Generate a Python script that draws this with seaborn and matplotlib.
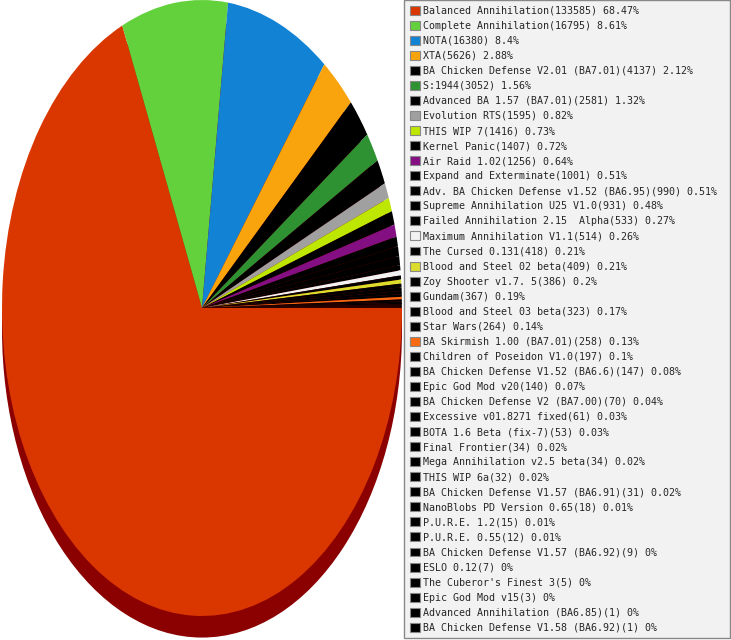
import matplotlib
matplotlib.use("Agg")
import matplotlib.pyplot as plt
import seaborn as sns
from matplotlib.patches import Ellipse

# data
mods = ["Balanced Annihilation", "Complete Annihilation", "NOTA", "XTA",
        "BA Chicken Defense V2.01 (BA7.01)", "S:1944", "Advanced BA 1.57 (BA7.01)",
        "Evolution RTS", "THIS WIP 7", "Kernel Panic", "Air Raid 1.02",
        "Expand and Exterminate", "Adv. BA Chicken Defense v1.52 (BA6.95)",
        "Supreme Annihilation U25 V1.0", "Failed Annihilation 2.15  Alpha",
        "Maximum Annihilation V1.1", "The Cursed 0.131", "Blood and Steel 02 beta",
        "Zoy Shooter v1.7. 5", "Gundam", "Blood and Steel 03 beta", "Star Wars",
        "BA Skirmish 1.00 (BA7.01)", "Children of Poseidon V1.0",
        "BA Chicken Defense V1.52 (BA6.6)", "Epic God Mod v20",
        "BA Chicken Defense V2 (BA7.00)", "Excessive v01.8271 fixed",
        "BOTA 1.6 Beta (fix-7)", "Final Frontier", "Mega Annihilation v2.5 beta",
        "THIS WIP 6a", "BA Chicken Defense V1.57 (BA6.91)", "NanoBlobs PD Version 0.65",
        "P.U.R.E. 1.2", "P.U.R.E. 0.55", "BA Chicken Defense V1.57 (BA6.92)",
        "ESLO 0.12", "The Cuberor's Finest 3", "Epic God Mod v15",
        "Advanced Annihilation (BA6.85)", "BA Chicken Defense V1.58 (BA6.92)"]
counts = [133585, 16795, 16380, 5626, 4137, 3052, 2581, 1595, 1416, 1407, 1256,
          1001, 990, 931, 533, 514, 418, 409, 386, 367, 323, 264, 258, 197, 147,
          140, 70, 61, 53, 34, 34, 32, 31, 18, 15, 12, 9, 7, 5, 3, 1, 1]
percents = ["68.47", "8.61", "8.4", "2.88", "2.12", "1.56", "1.32", "0.82", "0.73",
            "0.72", "0.64", "0.51", "0.51", "0.48", "0.27", "0.26", "0.21", "0.21",
            "0.2", "0.19", "0.17", "0.14", "0.13", "0.1", "0.08", "0.07", "0.04",
            "0.03", "0.03", "0.02", "0.02", "0.02", "0.02", "0.01", "0.01", "0.01",
            "0", "0", "0", "0", "0", "0"]

special = {0: "#d93600", 1: "#62d13c", 2: "#1283d4", 3: "#f9a40c", 5: "#2e9132",
           7: "#a0a0a0", 8: "#bde600", 10: "#830f83", 15: "#f2f2f2",
           17: "#dcdc2c", 22: "#f86a12"}
colors = [special.get(i, "#000000") for i in range(len(mods))]
labels = [f"{m}({c}) {p}%" for m, c, p in zip(mods, counts, percents)]

sns.set_theme(style="white")
plt.rcParams['font.family'] = ['DejaVu Sans Mono', 'DejaVu Sans']

fig = plt.figure(figsize=(7.31, 6.40), dpi=100)
ax = fig.add_axes([2 / 731, 24 / 640, 400 / 731, 616 / 640])

wedges, _ = ax.pie(counts, colors=colors, startangle=0, counterclock=False,
                   wedgeprops=dict(linewidth=0, antialiased=True))
# 3d-ish depth under the pie
ax.add_patch(Ellipse((0, -0.07), 2, 2, facecolor="#8b0000", edgecolor="none",
                     zorder=0, clip_on=False))
ax.set_aspect("auto")
ax.set_xlim(-1, 1)
ax.set_ylim(-1, 1)
ax.axis("off")

leg = fig.legend(wedges, labels, loc="upper left", mode="expand",
                 bbox_to_anchor=(404 / 731, 1 / 640, 326 / 731, 639 / 640),
                 bbox_transform=fig.transFigure,
                 prop={"family": "DejaVu Sans Mono", "size": 7.2},
                 frameon=True, fancybox=False, framealpha=1,
                 facecolor="#f2f2f2", edgecolor="#888888",
                 handlelength=1.0, handleheight=1.0, handletextpad=0.3,
                 labelspacing=0.505, borderpad=0.56, borderaxespad=0)
for h in leg.legend_handles:
    h.set_edgecolor("#888888")
    h.set_linewidth(0.8)
leg.get_frame().set_linewidth(1.0)

fig.savefig("out.png", dpi=100)
